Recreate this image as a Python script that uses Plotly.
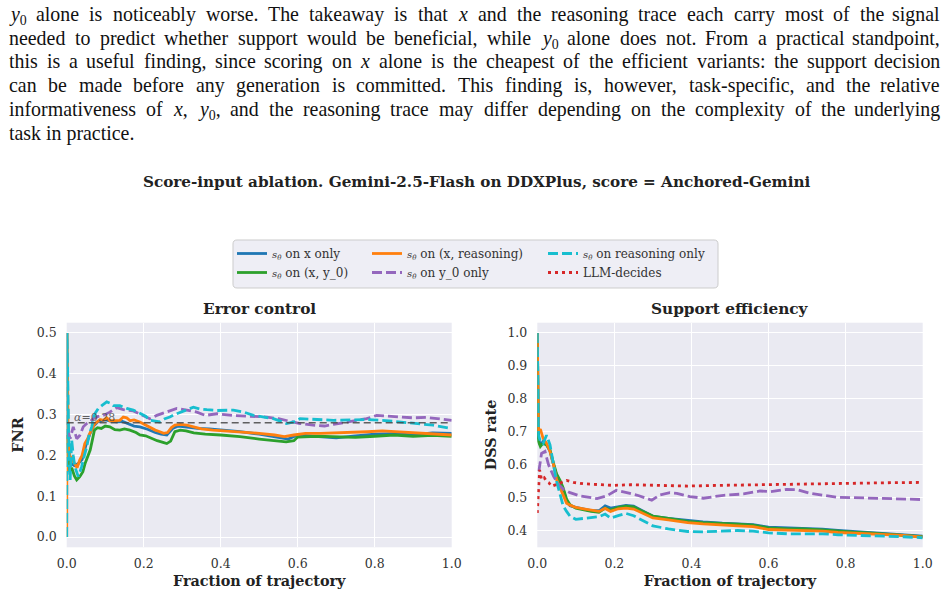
import re
import plotly.graph_objects as go

W, H = 949, 596

# ---------------- data: left panel (FNR) ----------------
fnr_t_xonly = [0.0, 0.002, 0.006, 0.012, 0.02, 0.03, 0.04, 0.05, 0.06, 0.07, 0.08, 0.09, 0.10, 0.115, 0.13,
               0.145, 0.16, 0.175, 0.19, 0.21, 0.23, 0.245, 0.26, 0.275, 0.29, 0.31, 0.34, 0.37, 0.40, 0.45,
               0.50, 0.55, 0.575, 0.60, 0.65, 0.70, 0.75, 0.80, 0.85, 0.90, 0.95, 1.0]
fnr_xonly = [0.5, 0.24, 0.2, 0.18, 0.175, 0.18, 0.19, 0.225, 0.252, 0.272, 0.282, 0.285, 0.287, 0.284, 0.282,
             0.283, 0.278, 0.272, 0.27, 0.264, 0.256, 0.252, 0.25, 0.266, 0.272, 0.27, 0.266, 0.265, 0.263, 0.258,
             0.252, 0.245, 0.24, 0.25, 0.247, 0.243, 0.248, 0.252, 0.253, 0.25, 0.255, 0.254]

fnr_t_xy0 = [0.0, 0.003, 0.008, 0.013, 0.02, 0.026, 0.034, 0.042, 0.048, 0.055, 0.061, 0.066, 0.072, 0.08, 0.09,
             0.10, 0.112, 0.125, 0.138, 0.15, 0.164, 0.18, 0.19, 0.205, 0.22, 0.235, 0.25, 0.26, 0.27, 0.281,
             0.295, 0.31, 0.33, 0.36, 0.40, 0.45, 0.50, 0.54, 0.57, 0.59, 0.60, 0.65, 0.70, 0.75, 0.80,
             0.85, 0.90, 0.95, 1.0]
fnr_xy0 = [0.25, 0.2, 0.16, 0.17, 0.15, 0.14, 0.148, 0.16, 0.181, 0.2, 0.213, 0.235, 0.262, 0.268, 0.266,
           0.272, 0.27, 0.263, 0.262, 0.265, 0.262, 0.256, 0.25, 0.248, 0.242, 0.236, 0.232, 0.229, 0.235, 0.258,
           0.262, 0.26, 0.255, 0.252, 0.25, 0.246, 0.24, 0.237, 0.233, 0.236, 0.245, 0.247, 0.245, 0.244, 0.247,
           0.25, 0.247, 0.249, 0.247]

fnr_t_xreason = [0.0, 0.001, 0.004, 0.008, 0.014, 0.02, 0.027, 0.034, 0.04, 0.047, 0.054, 0.06, 0.067, 0.073, 0.08,
                 0.087, 0.095, 0.104, 0.112, 0.125, 0.138, 0.147, 0.156, 0.165, 0.175, 0.19, 0.205, 0.216, 0.23,
                 0.242, 0.252, 0.262, 0.272, 0.281, 0.295, 0.312, 0.33, 0.35, 0.38, 0.41, 0.45, 0.50, 0.54,
                 0.565, 0.59, 0.62, 0.66, 0.70, 0.75, 0.78, 0.82, 0.86, 0.91, 0.95, 1.0]
fnr_xreason = [0.0, 0.5, 0.24, 0.2, 0.19, 0.18, 0.17, 0.189, 0.2, 0.229, 0.24, 0.254, 0.268, 0.278, 0.283,
               0.288, 0.286, 0.292, 0.285, 0.286, 0.286, 0.294, 0.292, 0.285, 0.287, 0.282, 0.274, 0.27, 0.262,
               0.258, 0.254, 0.256, 0.268, 0.274, 0.276, 0.274, 0.27, 0.265, 0.262, 0.26, 0.258, 0.254, 0.25,
               0.246, 0.25, 0.254, 0.254, 0.255, 0.256, 0.258, 0.26, 0.258, 0.254, 0.252, 0.25]

fnr_t_y0 = [0.003, 0.009, 0.017, 0.026, 0.034, 0.043, 0.052, 0.06, 0.069, 0.08, 0.095, 0.112, 0.13, 0.147, 0.173,
            0.199, 0.216, 0.234, 0.26, 0.286, 0.312, 0.338, 0.36, 0.39, 0.43, 0.48, 0.52, 0.55, 0.571, 0.606,
            0.64, 0.67, 0.693, 0.72, 0.75, 0.779, 0.805, 0.83, 0.866, 0.9, 0.935, 0.97, 1.0]
fnr_y0 = [0.26, 0.241, 0.27, 0.241, 0.249, 0.27, 0.278, 0.282, 0.29, 0.295, 0.298, 0.306, 0.317, 0.312, 0.309,
          0.298, 0.29, 0.298, 0.306, 0.315, 0.311, 0.306, 0.298, 0.302, 0.298, 0.296, 0.294, 0.29, 0.285, 0.278,
          0.274, 0.272, 0.276, 0.28, 0.286, 0.29, 0.298, 0.296, 0.294, 0.292, 0.293, 0.29, 0.286]

fnr_t_reason = [0.0, 0.001, 0.003, 0.006, 0.009, 0.013, 0.017, 0.021, 0.03, 0.039, 0.046, 0.052, 0.058, 0.065,
                0.073, 0.082, 0.091, 0.104, 0.113, 0.121, 0.138, 0.156, 0.173, 0.19, 0.205, 0.216, 0.23, 0.242,
                0.255, 0.268, 0.28, 0.294, 0.31, 0.329, 0.345, 0.364, 0.39, 0.433, 0.46, 0.485, 0.51, 0.537,
                0.555, 0.571, 0.59, 0.606, 0.65, 0.693, 0.74, 0.779, 0.82, 0.866, 0.909, 0.952, 1.0]
fnr_reason = [0.0, 0.5, 0.37, 0.2, 0.14, 0.238, 0.2, 0.173, 0.148, 0.173, 0.2, 0.221, 0.25, 0.27,
              0.302, 0.315, 0.322, 0.331, 0.328, 0.322, 0.322, 0.315, 0.311, 0.302, 0.296, 0.286, 0.284, 0.282,
              0.29, 0.294, 0.3, 0.306, 0.311, 0.318, 0.314, 0.312, 0.31, 0.311, 0.306, 0.298, 0.294, 0.29,
              0.284, 0.278, 0.282, 0.29, 0.288, 0.286, 0.287, 0.288, 0.286, 0.282, 0.277, 0.274, 0.266]

alpha_level = 0.28

# ---------------- data: right panel (DSS rate) ----------------
dss_t = [0.0, 0.003, 0.008, 0.015, 0.024, 0.033, 0.042, 0.05, 0.059, 0.067, 0.076, 0.085, 0.1, 0.12, 0.14,
         0.16, 0.176, 0.19, 0.21, 0.23, 0.25, 0.27, 0.3, 0.34, 0.39, 0.43, 0.48, 0.52, 0.56, 0.6,
         0.65, 0.69, 0.74, 0.78, 0.82, 0.86, 0.9, 0.95, 1.0]
dss_xonly = [1.0, 0.68, 0.66, 0.67, 0.66, 0.64, 0.6, 0.568, 0.548, 0.525, 0.49, 0.475, 0.47, 0.465, 0.46,
             0.46, 0.475, 0.468, 0.472, 0.476, 0.474, 0.462, 0.443, 0.437, 0.43, 0.426, 0.422, 0.42, 0.418, 0.41,
             0.408, 0.407, 0.404, 0.4, 0.397, 0.394, 0.392, 0.387, 0.383]
dss_xy0 = [1.0, 0.67, 0.655, 0.665, 0.66, 0.645, 0.605, 0.572, 0.552, 0.53, 0.495, 0.478, 0.468, 0.462, 0.458,
           0.455, 0.468, 0.462, 0.47, 0.474, 0.472, 0.46, 0.444, 0.437, 0.428, 0.424, 0.42, 0.419, 0.416, 0.408,
           0.405, 0.405, 0.402, 0.398, 0.395, 0.393, 0.39, 0.385, 0.381]
dss_xreason = [1.0, 0.7, 0.708, 0.68, 0.665, 0.64, 0.6, 0.555, 0.53, 0.505, 0.483, 0.477, 0.47, 0.466, 0.462,
               0.458, 0.467, 0.458, 0.466, 0.468, 0.465, 0.454, 0.438, 0.432, 0.424, 0.42, 0.416, 0.414, 0.412,
               0.403, 0.401, 0.4, 0.398, 0.394, 0.392, 0.39, 0.388, 0.385, 0.38]
dss_reason = [1.0, 0.69, 0.67, 0.664, 0.689, 0.66, 0.6, 0.55, 0.51, 0.475, 0.458, 0.443, 0.434, 0.436, 0.44,
              0.442, 0.45, 0.438, 0.445, 0.452, 0.445, 0.432, 0.414, 0.405, 0.397, 0.396, 0.398, 0.4, 0.398,
              0.393, 0.39, 0.39, 0.39, 0.387, 0.386, 0.384, 0.383, 0.381, 0.378]

dss_t_y0 = [0.004, 0.011, 0.02, 0.029, 0.042, 0.055, 0.068, 0.085, 0.11, 0.137, 0.155, 0.18, 0.205, 0.232, 0.26,
            0.285, 0.297, 0.318, 0.344, 0.362, 0.396, 0.431, 0.483, 0.535, 0.578, 0.604, 0.647, 0.673, 0.708,
            0.777, 0.863, 0.95, 1.0]
dss_y0 = [0.58, 0.634, 0.64, 0.6, 0.565, 0.54, 0.525, 0.515, 0.505, 0.5, 0.497, 0.505, 0.522, 0.515, 0.507,
          0.497, 0.492, 0.508, 0.515, 0.513, 0.503, 0.498, 0.507, 0.511, 0.52, 0.518, 0.525, 0.524, 0.513,
          0.501, 0.498, 0.495, 0.494]

dss_t_llm = [0.0, 0.003, 0.006, 0.011, 0.018, 0.024, 0.03, 0.037, 0.046, 0.059, 0.076, 0.094, 0.12, 0.154, 0.197,
             0.241, 0.3, 0.39, 0.47, 0.56, 0.65, 0.73, 0.82, 0.91, 1.0]
dss_llm = [0.453, 0.52, 0.584, 0.554, 0.56, 0.549, 0.545, 0.534, 0.539, 0.544, 0.552, 0.546, 0.542, 0.539, 0.537,
           0.539, 0.537, 0.535, 0.537, 0.539, 0.541, 0.542, 0.543, 0.545, 0.546]

x_ticks = [0.0, 0.2, 0.4, 0.6, 0.8, 1.0]
fnr_ticks = [0.0, 0.1, 0.2, 0.3, 0.4, 0.5]
dss_ticks = [0.4, 0.5, 0.6, 0.7, 0.8, 0.9, 1.0]

SQ = '<span style="font-size:10px"><i>s<sub>θ</sub></i></span> '
series_names = {
    'xonly': SQ + 'on x only',
    'xy0': SQ + 'on (x, y_0)',
    'xreason': SQ + 'on (x, reasoning)',
    'y0': SQ + 'on y_0 only',
    'reason': SQ + 'on reasoning only',
    'llm': 'LLM-decides',
}

paragraph = [
    "<i>y</i><sub>0</sub> alone is noticeably worse. The takeaway is that <i>x</i> and the reasoning trace each carry most of the signal",
    "needed to predict whether support would be beneficial, while <i>y</i><sub>0</sub> alone does not. From a practical standpoint,",
    "this is a useful finding, since scoring on <i>x</i> alone is the cheapest of the efficient variants: the support decision",
    "can be made before any generation is committed. This finding is, however, task-specific, and the relative",
    "informativeness of <i>x</i>, <i>y</i><sub>0</sub>, and the reasoning trace may differ depending on the complexity of the underlying",
    "task in practice.",
]

# ---------------- styling ----------------
C_BLUE, C_ORANGE, C_GREEN = '#1f77b4', '#ff7f0e', '#2ca02c'
C_RED, C_PURPLE, C_CYAN = '#d62728', '#9467bd', '#17becf'
SERIF = 'DejaVu Serif'
LW = 2.8
DASH = '10px,4px'
DOT = '3px,4px'

def px_x(p):
    return p / W

def px_y(p):
    return (H - p) / H

fig = go.Figure()

def add(t, v, name, color, dash, axis, legend, show):
    fig.add_trace(go.Scatter(
        x=t, y=v, mode='lines', name=name,
        line=dict(color=color, width=LW, dash=dash),
        xaxis='x' if axis == 1 else 'x2', yaxis='y' if axis == 1 else 'y2',
        legend=legend, showlegend=show, legendgroup=name))

# left panel
add(fnr_t_xonly, fnr_xonly, series_names['xonly'], C_BLUE, 'solid', 1, 'legend', True)
add(fnr_t_xy0, fnr_xy0, series_names['xy0'], C_GREEN, 'solid', 1, 'legend', True)
add(fnr_t_xreason, fnr_xreason, series_names['xreason'], C_ORANGE, 'solid', 1, 'legend2', True)
add(fnr_t_y0, fnr_y0, series_names['y0'], C_PURPLE, DASH, 1, 'legend2', True)
add(fnr_t_reason, fnr_reason, series_names['reason'], C_CYAN, DASH, 1, 'legend3', True)
fig.add_trace(go.Scatter(x=[0.0, 1.0], y=[alpha_level, alpha_level], mode='lines',
                         line=dict(color='rgba(70,70,70,0.85)', width=1.5, dash='7px,4px'),
                         showlegend=False, xaxis='x', yaxis='y'))
# right panel
add(dss_t, dss_xonly, series_names['xonly'], C_BLUE, 'solid', 2, 'legend', False)
add(dss_t, dss_xy0, series_names['xy0'], C_GREEN, 'solid', 2, 'legend', False)
add(dss_t, dss_xreason, series_names['xreason'], C_ORANGE, 'solid', 2, 'legend2', False)
add(dss_t_y0, dss_y0, series_names['y0'], C_PURPLE, DASH, 2, 'legend2', False)
add(dss_t, dss_reason, series_names['reason'], C_CYAN, DASH, 2, 'legend3', False)
add(dss_t_llm, dss_llm, series_names['llm'], C_RED, DOT, 2, 'legend3', True)

tickfont = dict(family=SERIF, size=12.5, color='#333333')
titlefont = dict(family=SERIF, size=14.4, color='#222222', weight='bold')
common_x = dict(range=[0, 1], tickvals=x_ticks, tickformat='.1f', showgrid=True, gridcolor='white',
                gridwidth=1, zeroline=False, showline=False, ticks='', tickfont=tickfont,
                ticklabelstandoff=7, automargin=False,
                title=dict(text='Fraction of trajectory', font=titlefont, standoff=6))
fig.update_layout(
    width=W, height=H, margin=dict(l=0, r=0, t=0, b=0, autoexpand=False),
    paper_bgcolor='white', plot_bgcolor='#EAEAF2',
    xaxis=dict(domain=[px_x(66.7), px_x(451.7)], anchor='y', **common_x),
    xaxis2=dict(domain=[px_x(537.3), px_x(922.7)], anchor='y2', **common_x),
    yaxis=dict(domain=[px_y(547.3), px_y(322.7)], anchor='x', range=[-0.025, 0.525], tickvals=fnr_ticks,
               tickformat='.1f', showgrid=True, gridcolor='white', gridwidth=1, zeroline=False,
               showline=False, ticks='', tickfont=tickfont, ticklabelstandoff=9, automargin=False,
               title=dict(text='FNR', font=titlefont, standoff=9)),
    yaxis2=dict(domain=[px_y(547.3), px_y(322.7)], anchor='x2', range=[0.349, 1.031], tickvals=dss_ticks,
                tickformat='.1f', showgrid=True, gridcolor='white', gridwidth=1, zeroline=False,
                showline=False, ticks='', tickfont=tickfont, ticklabelstandoff=9, automargin=False,
                title=dict(text='DSS rate', font=titlefont, standoff=7)),
    showlegend=True,
)

legfont = dict(family=SERIF, size=12, color='#333333')
for key, left in (('legend', 232), ('legend2', 367), ('legend3', 543)):
    fig.update_layout({key: dict(x=px_x(left), y=px_y(239), xanchor='left', yanchor='top',
                                 bgcolor='rgba(0,0,0,0)', borderwidth=0, font=legfont,
                                 orientation='v', itemwidth=30, tracegroupgap=0,
                                 traceorder='normal')})

# legend frame (rounded rectangle)
bx0, bx1, by0, by1, r = 233, 718, 240, 288, 4
def P(x, y):
    return f'{px_x(x):.5f},{px_y(y):.5f}'
frame_path = (f'M {P(bx0 + r, by0)} L {P(bx1 - r, by0)} Q {P(bx1, by0)} {P(bx1, by0 + r)} '
              f'L {P(bx1, by1 - r)} Q {P(bx1, by1)} {P(bx1 - r, by1)} '
              f'L {P(bx0 + r, by1)} Q {P(bx0, by1)} {P(bx0, by1 - r)} '
              f'L {P(bx0, by0 + r)} Q {P(bx0, by0)} {P(bx0 + r, by0)} Z')
fig.add_shape(type='path', xref='paper', yref='paper', path=frame_path,
              fillcolor='rgba(234,234,242,0.8)', line=dict(color='#cccccc', width=1), layer='below')

ann = []
# titles
ann.append(dict(text='<b>Score-input ablation. Gemini-2.5-Flash on DDXPlus, score = Anchored-Gemini</b>',
                x=px_x(476), y=px_y(182), xref='paper', yref='paper', showarrow=False,
                font=dict(family=SERIF, size=15.2, color='#222222'), xanchor='center', yanchor='middle'))
ann.append(dict(text='<b>Error control</b>', x=px_x(259.2), y=px_y(309), xref='paper', yref='paper',
                showarrow=False, font=dict(family=SERIF, size=15.3, color='#222222'),
                xanchor='center', yanchor='middle'))
ann.append(dict(text='<b>Support efficiency</b>', x=px_x(730), y=px_y(309), xref='paper', yref='paper',
                showarrow=False, font=dict(family=SERIF, size=15.3, color='#222222'),
                xanchor='center', yanchor='middle'))
ann.append(dict(text='<i>α</i>=0.28', x=0.014, y=alpha_level, xref='x', yref='y', showarrow=False,
                font=dict(family=SERIF, size=11, color='rgba(70,70,70,0.85)'), xanchor='left',
                yanchor='bottom', yshift=-3))

# paragraph (justified, word by word)
TIMES = {' ': 250, ',': 250, '.': 250, ':': 278, '-': 333, '(': 333, ')': 333, '0': 500,
         'F': 556, 'T': 611, 'a': 444, 'b': 500, 'c': 444, 'd': 500, 'e': 444, 'f': 333, 'g': 500,
         'h': 500, 'i': 278, 'j': 278, 'k': 500, 'l': 278, 'm': 778, 'n': 500, 'o': 500, 'p': 500,
         'q': 500, 'r': 333, 's': 389, 't': 278, 'u': 500, 'v': 500, 'w': 722, 'x': 500, 'y': 500,
         'z': 444}
PFONT = 19.9

def text_w(markup, size):
    w, scale = 0.0, 1.0
    for tok in re.split(r'(<[^>]+>)', markup):
        if tok == '<sub>':
            scale = 0.7
        elif tok == '</sub>':
            scale = 1.0
        elif tok.startswith('<'):
            continue
        else:
            for ch in tok:
                w += TIMES.get(ch, 500) * scale
    return w * size / 1000.0

X_L, X_R = 8, 941
LINE_TOP0, LINE_STEP = 2, 23.7
for li, line in enumerate(paragraph):
    top = LINE_TOP0 + li * LINE_STEP
    words = line.split(' ')
    pfont = dict(family='Liberation Serif', size=PFONT, color='#111111')
    if li == len(paragraph) - 1:
        ann.append(dict(text=line, x=px_x(X_L), y=px_y(top), xref='paper', yref='paper', showarrow=False,
                        xanchor='left', yanchor='top', font=pfont, borderpad=0))
        continue
    widths = [text_w(w, PFONT) for w in words]
    gap = (X_R - X_L - sum(widths)) / (len(words) - 1)
    xpos = X_L
    for wi, (wd, ww) in enumerate(zip(words, widths)):
        if wi == len(words) - 1:
            ann.append(dict(text=wd, x=px_x(X_R), y=px_y(top), xref='paper', yref='paper', showarrow=False,
                            xanchor='right', yanchor='top', font=pfont, borderpad=0))
        else:
            ann.append(dict(text=wd, x=px_x(xpos), y=px_y(top), xref='paper', yref='paper', showarrow=False,
                            xanchor='left', yanchor='top', font=pfont, borderpad=0))
        xpos += ww + gap

fig.update_layout(annotations=ann)
fig.write_html('out.html')
